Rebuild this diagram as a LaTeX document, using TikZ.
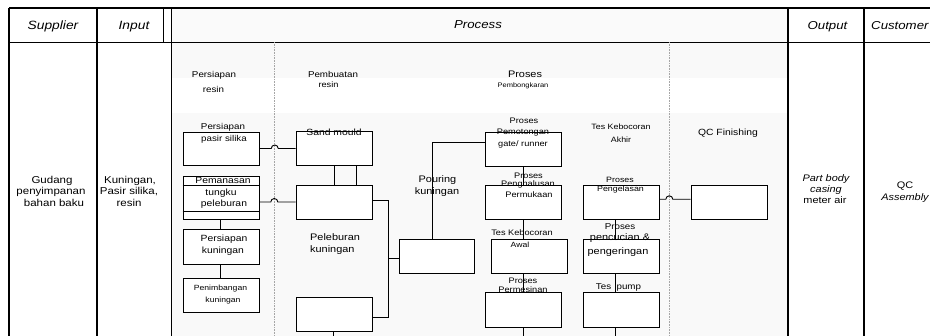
\documentclass[tikz,border=0pt]{standalone}
\usepackage{fontspec}
\setmainfont{Liberation Sans}[FakeStretch=1.15]
\newcommand{\fsz}[1]{\fontsize{#1}{#1}\selectfont}
\begin{document}
\begin{tikzpicture}[x=1pt,y=-1pt,
  t/.style={inner sep=0pt, anchor=base},
  tw/.style={inner sep=0pt, anchor=base west},
  box/.style={draw, fill=white, line width=0.9pt, inner sep=0pt, minimum width=76pt, minimum height=34pt},
  con/.style={line width=0.9pt},
  tbl/.style={line width=1.1pt},
  sepline/.style={draw=gray!70, line width=0.6pt, densely dotted},
  hop/.style={line width=0.9pt}]
\useasboundingbox (0,0) rectangle (930,336);
% faint background shading
\fill[gray!4] (171.3,8) rectangle (788,42.3);
\fill[gray!5] (171.3,42.3) rectangle (788,78);
\fill[gray!5] (171.3,113) rectangle (788,336);
% table
\draw[tbl] (9,8) -- (930,8);
\draw[tbl] (9,42.3) -- (930,42.3);
\draw[tbl] (9,8) -- (9,336);
\draw[tbl] (97,8) -- (97,336);
\draw[tbl] (163.3,8) -- (163.3,42.3);
\draw[tbl] (171.3,8) -- (171.3,336);
\draw[tbl] (788,8) -- (788,336);
\draw[tbl] (864,8) -- (864,336);
% dotted separators
\draw[sepline] (274.3,42.3) -- (274.3,336);
\draw[sepline] (669.3,42.3) -- (669.3,336);
% header
\node[t, font=\fsz{12}\itshape] (hSup) at (53,29.3) {Supplier};
\node[t, font=\fsz{12}\itshape] (hIn) at (134,29.3) {Input};
\node[t, font=\fsz{11.5}\itshape] (hPro) at (478,29) {Process};
\node[t, font=\fsz{11.5}\itshape] (hOut) at (827.5,29.3) {Output};
\node[tw, font=\fsz{11.5}\itshape] (hCus) at (871,29.3) {Customer};
% supplier / input
\node[t, font=\fsz{10}] (g1) at (52,183.5) {Gudang};
\node[t, font=\fsz{10}] (g2) at (51,195) {penyimpanan};
\node[t, font=\fsz{10}] (g3) at (54,206.3) {bahan baku};
\node[t, font=\fsz{10}] (k1) at (130,183.5) {Kuningan,};
\node[t, font=\fsz{10}] (k2) at (129,195) {Pasir silika,};
\node[t, font=\fsz{10}] (k3) at (129,206.3) {resin};
% column headings inside process
\node[t, font=\fsz{8.5}] (pr1) at (214,77.3) {Persiapan};
\node[t, font=\fsz{8.5}] (pr2) at (213.5,93) {resin};
\node[t, font=\fsz{8.5}] (pb1) at (333,77.3) {Pembuatan};
\node[t, font=\fsz{8}] (pb2) at (328.5,88) {resin};
\node[t, font=\fsz{9.5}] (ph1) at (525,77.3) {Proses};
\node[t, font=\fsz{6.5}] (ph2) at (523,88) {Pembongkaran};
\node[t, font=\fsz{7.7}] (ak1) at (621,129.3) {Tes Kebocoran};
\node[t, font=\fsz{7.7}] (ak2) at (621,142.7) {Akhir};
\node[t, font=\fsz{9}] (qf) at (728,136) {QC Finishing};
% boxes
\node[box, minimum width=76pt, minimum height=33pt] (A) at (221,148.5) {};
\node[box, minimum width=76pt, minimum height=42.5pt] (B) at (221,198.2) {};
\draw[line width=0.9pt] ([yshift=-8.7pt]B.north west) -- ([yshift=-8.7pt]B.north east);
\draw[line width=0.9pt] ([yshift=8.5pt]B.south west) -- ([yshift=8.5pt]B.south east);
\node[box, minimum height=35pt] (C) at (221,246.5) {};
\node[box] (D) at (221,295) {};
\node[box] (E) at (334,148.5) {};
\node[box] (F) at (334,202) {};
\node[box] (G) at (334,314.5) {};
\node[box, minimum width=75pt] (H) at (436.5,256) {};
\node[box] (I) at (523,149) {};
\node[box] (J) at (523,202) {};
\node[box] (K) at (529,256) {};
\node[box, minimum height=35pt] (L) at (523,309.5) {};
\node[box] (M) at (621,202.3) {};
\node[box] (N) at (621,256) {};
\node[box, minimum height=35pt] (O) at (621,309.5) {};
\node[box] (P) at (729,202.3) {};
% helper coordinates
\coordinate (bot) at (0,336);
\coordinate (jv) at (388,258);
\coordinate (kv) at (432,142);
\coordinate (mv) at (615,0);
% connectors
\draw[con] (A.east) -- ([xshift=11.8pt]A.east) arc[start angle=180, end angle=0, radius=3.5pt] -- (E.west |- A.east);
\draw[con] (B.east |- F.west) -- (270.8,202) arc[start angle=180, end angle=0, radius=3.5pt] -- (F.west);
\draw[con] ([xshift=-1pt]B.south) -- ([xshift=-1pt]C.north);
\draw[con] ([xshift=-1pt]C.south) -- ([xshift=-1pt]D.north);
\draw[con] (E.south) -- (F.north);
\draw[con] ([xshift=22pt]E.south) -- ([xshift=22pt]F.north);
\draw[con] ([yshift=2pt]F.east) -- ([yshift=2pt]F.east -| jv) -- ([yshift=-2.5pt]G.east -| jv) -- ([yshift=-2.5pt]G.east);
\draw[con] (jv) -- (jv -| H.west);
\draw[con] ([xshift=-1pt]G.south) -- ([xshift=-1pt]G.south |- bot);
\draw[con] (kv |- H.north) -- (kv) -- (kv -| I.west);
\draw[con] (I.south) -- (J.north);
\draw[con] (J.south) -- (J.south |- K.north);
\draw[con] (L.north |- K.south) -- (L.north);
\draw[con] (L.south) -- (L.south |- bot);
\draw[con] (mv |- M.south) -- (mv |- N.north);
\draw[con] (mv |- N.south) -- (mv |- O.north);
\draw[con] (mv |- O.south) -- (mv |- bot);
\draw[con] ([yshift=3pt]M.east) -- (665.8,199.3) arc[start angle=180, end angle=0, radius=3.5pt] -- ([yshift=3pt]P.west);
% box texts
\node[t, font=\fsz{8.5}] (a1) at (223,129.3) {Persiapan};
\node[t, font=\fsz{8.5}] (a2) at (224,141.7) {pasir silika};
\node[t, font=\fsz{9}] (b1) at (223,183.3) {Pemanasan};
\node[t, font=\fsz{9}] (b2) at (221,195.7) {tungku};
\node[t, font=\fsz{9}] (b3) at (224,207) {peleburan};
\node[t, font=\fsz{9}] (c1) at (224,242) {Persiapan};
\node[t, font=\fsz{9}] (c2) at (223,254) {kuningan};
\node[t, font=\fsz{7.5}] (d1) at (220.5,290.7) {Penimbangan};
\node[t, font=\fsz{7.5}] (d2) at (223,302.3) {kuningan};
\node[t, font=\fsz{9}] (e1) at (334,135.3) {Sand mould};
\node[tw, font=\fsz{9.5}] (pl1) at (310,241) {Peleburan};
\node[tw, font=\fsz{9.5}] (pl2) at (310,252.7) {kuningan};
\node[t, font=\fsz{9.5}] (po1) at (437.5,182.7) {Pouring};
\node[t, font=\fsz{9.5}] (po2) at (437,194.3) {kuningan};
\node[t, font=\fsz{8}] (i1) at (524,123.3) {Proses};
\node[t, font=\fsz{8}] (i2) at (523,134.3) {Pemotongan};
\node[t, font=\fsz{8}] (i3) at (523,146.7) {gate/ runner};
\node[t, font=\fsz{8}] (j1) at (528.5,178.3) {Proses};
\node[t, font=\fsz{8}] (j2) at (528,186.7) {Penghalusan};
\node[t, font=\fsz{8}] (j3) at (529,197.3) {Permukaan};
\node[t, font=\fsz{8}] (kt1) at (522,236) {Tes Kebocoran};
\node[t, font=\fsz{7.5}] (kt2) at (520,247.7) {Awal};
\node[t, font=\fsz{8}] (l1) at (523,284) {Proses};
\node[t, font=\fsz{8}] (l2) at (523,292.7) {Permesinan};
\node[t, font=\fsz{7.7}] (m1) at (620,182.3) {Proses};
\node[t, font=\fsz{7.7}] (m2) at (620.5,192) {Pengelasan};
\node[t, font=\fsz{8.5}] (n1) at (620,230) {Proses};
\node[t, font=\fsz{9.5}] (n2) at (620,240.7) {pencucian \&};
\node[t, font=\fsz{9.5}] (n3) at (618,254.3) {pengeringan};
\node[t, font=\fsz{8.5}] (o1) at (618.5,289.3) {Tes\ \ pump};
% output / customer
\node[t, font=\fsz{9.5}\itshape] (out1) at (826,181.7) {Part body};
\node[t, font=\fsz{9.5}\itshape] (out2) at (826,192.7) {casing};
\node[t, font=\fsz{9.5}] (out3) at (825,203.3) {meter air};
\node[t, font=\fsz{9.5}] (qa1) at (905,188.3) {QC};
\node[t, font=\fsz{9.5}\itshape] (qa2) at (905,201) {Assembly};
\end{tikzpicture}
\end{document}
